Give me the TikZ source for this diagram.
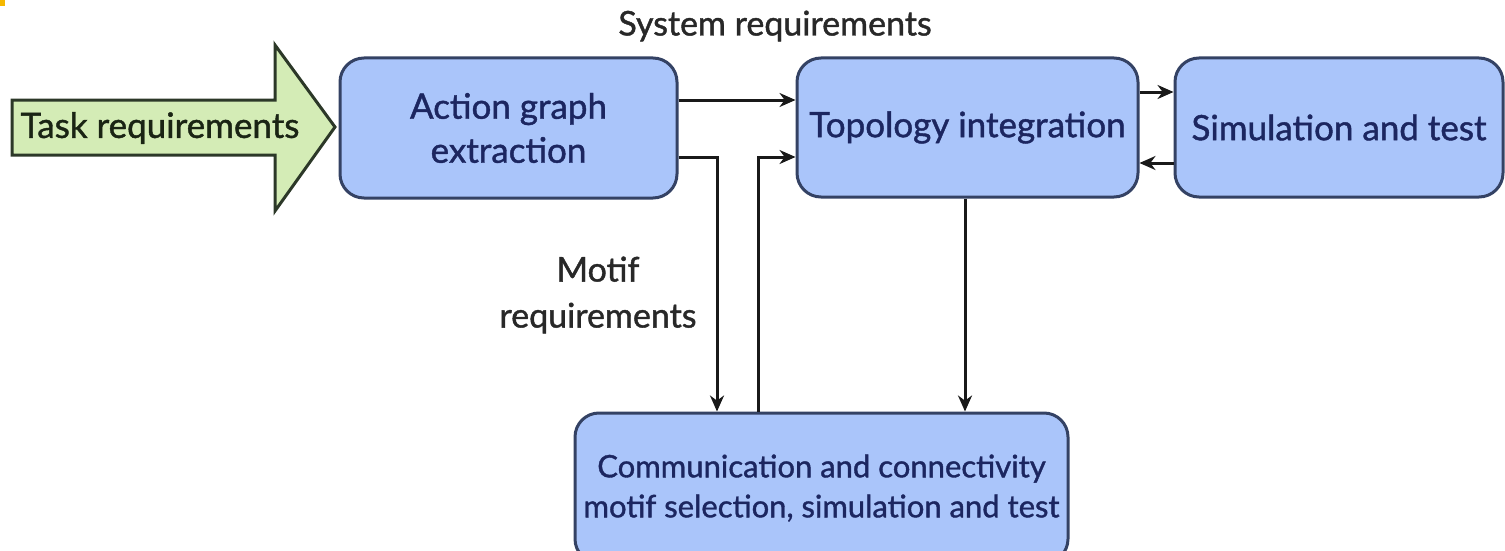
\documentclass[tikz,border=0pt]{standalone}
\usepackage{fontspec}
\setmainfont{Lato}[FakeBold=1.2]
\newfontfamily\diagfont{Lato}[FakeBold=1.2]
\usetikzlibrary{arrows.meta}
\definecolor{boxfill}{RGB}{170,197,250}
\definecolor{boxline}{RGB}{52,66,100}
\definecolor{boxtext}{RGB}{28,38,96}
\definecolor{greenfill}{RGB}{212,236,182}
\definecolor{greenline}{RGB}{44,56,40}
\definecolor{greentext}{RGB}{26,36,20}
\definecolor{labeltext}{RGB}{40,40,40}
\definecolor{marker}{RGB}{246,184,0}
\tikzset{
  x=1pt, y=-1pt,
  stagebox/.style={draw=boxline, line width=3pt, fill=boxfill, rounded corners=24pt,
    align=center, text=boxtext, font=\diagfont\fontsize{35}{44}\selectfont, inner sep=0pt},
  conn/.style={draw=black!90, line width=3pt, -{Stealth[length=16pt,width=14pt]}},
  lbl/.style={text=labeltext, font=\diagfont\fontsize{34}{46}\selectfont, align=center, inner sep=0pt},
}
\begin{document}
\begin{tikzpicture}
\useasboundingbox (0,0) rectangle (1505,551);
% corner marker
\fill[marker] (0,0) rectangle (5,6);

% input arrow
\draw[greenline, line width=3pt, fill=greenfill, line join=miter]
  (12,100) -- (275,100) -- (275,45) -- (335,127) -- (275,211) -- (275,155) -- (12,155) -- cycle;
\node[text=greentext, font=\diagfont\fontsize{35}{40}\selectfont, inner sep=0pt] (task) at (160,128) {Task requirements};

% processing stages
\node[stagebox, minimum width=337pt, minimum height=140pt] (act) at (508.5,128) {Action graph\\extraction};
\node[stagebox, minimum width=341pt, minimum height=139pt] (topo) at (967.5,127.5) {Topology integration};
\node[stagebox, minimum width=328pt, minimum height=139pt] (sim) at (1339,127.5) {Simulation and test};
\node[stagebox, minimum width=493pt, minimum height=150pt, font=\diagfont\fontsize{31}{40}\selectfont] (comm) at (821.5,488) {Communication and connectivity\\motif selection, simulation and test};

% labels
\node[lbl] (sysreq) at (775,26) {System requirements};
\node[lbl] (motif) at (598,295) {Motif\\requirements};

% routing rows and columns
\coordinate (r1) at (0,100);
\coordinate (r2) at (0,157);
\coordinate (r3) at (0,92);
\coordinate (r4) at (0,163);
\coordinate (c1) at (717,0);
\coordinate (c2) at (758,0);
\coordinate (c3) at (965,0);

% connectors
\draw[conn] (act.east |- r1) -- (topo.west |- r1);
\draw[conn, rounded corners=0pt] (act.east |- r2) -| (comm.north -| c1);
\draw[conn] (comm.north -| c2) |- (topo.west |- r2);
\draw[conn] (topo.east |- r3) -- (sim.west |- r3);
\draw[conn] (sim.west |- r4) -- (topo.east |- r4);
\draw[conn] (topo.south -| c3) -- (comm.north -| c3);
\end{tikzpicture}
\end{document}
